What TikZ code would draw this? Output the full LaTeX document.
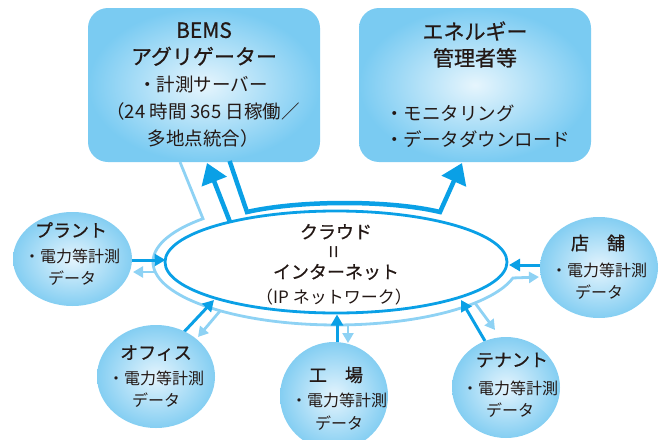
\documentclass[tikz,border=0pt]{standalone}
\usepackage{fontspec}
\setmainfont{Noto Sans CJK JP}
\newfontfamily\medfont[FakeBold=0.7]{Noto Sans CJK JP}
\usetikzlibrary{shapes.geometric,arrows.meta,calc}
\definecolor{dark}{HTML}{0AA0E6}
\definecolor{light}{HTML}{8ED2F4}
\definecolor{boxin}{HTML}{E6F5FD}
\definecolor{boxout}{HTML}{7ACBF2}
\definecolor{circin}{HTML}{E4F4FD}
\definecolor{circout}{HTML}{84CEF2}
\definecolor{txt}{HTML}{231815}
\begin{document}
\begin{tikzpicture}[x=1pt,y=-1pt,
  panel/.style={rounded corners=20pt, shade, inner color=boxin, outer color=boxout,
    minimum width=232pt, minimum height=154pt, inner sep=0pt},
  site/.style={ellipse, shade, inner color=circin, outer color=circout, inner sep=0pt},
  ttl/.style={font=\fontsize{21}{26.5}\selectfont\medfont, align=center, text=txt, inner sep=0pt},
  bod/.style={font=\fontsize{18.5}{26.7}\selectfont, align=center, text=txt, inner sep=0pt},
  sttl/.style={font=\fontsize{18}{20}\selectfont\medfont, align=center, text=txt, inner sep=0pt},
  sbod/.style={font=\fontsize{16}{22.5}\selectfont, align=center, text=txt, inner sep=0pt},
  darr/.style={draw=dark, line width=3pt, -{Triangle[length=11pt,width=12pt]}},
  larr/.style={draw=light, line width=2.8pt, -{Triangle[length=10pt,width=11pt]}},
  bigarr/.style={draw=dark, line width=4.5pt, -{Triangle[length=20pt,width=26pt]}},
]
\useasboundingbox (0,0) rectangle (666,439);

% panels
\node[panel] (bems) at (204,85) {};
\node[panel] (ene) at (475,85) {};
\node[ttl] (bemsT) at (204,44) {BEMS\\アグリゲーター};
\node[bod] (bemsB) at (203,111.5) {・計測サーバー\\（24 時間 365 日稼働／\\多地点統合）};
\node[ttl] (eneT) at (475,44.5) {エネルギー\\管理者等};
\node[bod, align=left, anchor=west] (eneB) at (385,126.5) {・モニタリング\\・データダウンロード};

% cloud
\node[ellipse, draw=dark, line width=2.8pt, minimum width=342pt, minimum height=102pt, inner sep=0pt] (cloud) at (336,262) {};
\node[sttl] (cloudT) at (336,252) {クラウド\\\raisebox{0.5pt}{\rotatebox{90}{\fontsize{23}{23}\selectfont\rmfamily =}}\\インターネット};
\node[font=\fontsize{17}{20}\selectfont, text=txt, inner sep=0pt] (cloudB) at (334,297) {（IP ネットワーク）};

% coordinates
\coordinate (lc0) at (180,162);
\coordinate (lc1) at (203,218.7);
\coordinate (lcEnd) at (539,277);
\coordinate (lpS) at (155,272);   \coordinate (lpE) at (133,272);
\coordinate (loS) at (220,311);   \coordinate (loE) at (198,337);
\coordinate (lfS) at (348,325);   \coordinate (lfE) at (348,343);
\coordinate (ltS) at (475,303);   \coordinate (ltE) at (495,330);
\coordinate (dpS) at (132,260);   \coordinate (dpE) at (165.5,260);
\coordinate (doS) at (183,333);   \coordinate (doE) at (214,300);
\coordinate (dfS) at (337,346);   \coordinate (dfE) at (337,314.5);
\coordinate (dtS) at (485,341);   \coordinate (dtE) at (461,300);
\coordinate (dsS) at (540,265);   \coordinate (dsE) at (509,265);
\coordinate (aS) at (230,222);    \coordinate (aE) at (207,163);
\coordinate (b0) at (229.6,161);  \coordinate (b1) at (247,212);
\coordinate (b2) at (440,212);    \coordinate (b3) at (462,163);

% light pipe
\draw[larr] (lc0) -- (lc1) arc[start angle=223.4, end angle=14.7, x radius=183, y radius=63] -- (lcEnd);
\draw[larr] (lpS) -- (lpE);
\draw[larr] (loS) -- (loE);
\draw[larr] (lfS) -- (lfE);
\draw[larr] (ltS) -- (ltE);

% dark arrows
\draw[darr] (dpS) -- (dpE);
\draw[darr] (doS) -- (doE);
\draw[darr] (dfS) -- (dfE);
\draw[darr] (dtS) -- (dtE);
\draw[darr] (dsS) -- (dsE);
\draw[bigarr] (aS) -- (aE);
\draw[bigarr] (b0) -- (b1) .. controls (300,200) and (390,200) .. (b2) -- (b3);

% sites
\node[site, minimum width=119pt, minimum height=94pt] (plant) at (72.5,259) {};
\node[site, minimum width=118pt, minimum height=101pt] (shop) at (599,267.5) {};
\node[site, minimum width=118pt, minimum height=103pt] (office) at (156,376.5) {};
\node[site, minimum width=108pt, minimum height=108pt] (factory) at (334,396) {};
\node[site, minimum width=108pt, minimum height=101pt] (tenant) at (506,387.5) {};

\node[sttl] (plantT) at (71,230) {プラント};
\node[sbod] (plantB) at (72,267) {・電力等計測\\データ};
\node[sttl] (shopT) at (598,243) {店　舗};
\node[sbod] (shopB) at (599,281) {・電力等計測\\データ};
\node[sttl] (officeT) at (156,353) {オフィス};
\node[sbod] (officeB) at (156,389) {・電力等計測\\データ};
\node[sttl] (factT) at (336,375) {工　場};
\node[sbod] (factB) at (339,411.5) {・電力等計測\\データ};
\node[sttl] (tenT) at (512,360) {テナント};
\node[sbod] (tenB) at (510,399) {・電力等計測\\データ};
\end{tikzpicture}
\end{document}
